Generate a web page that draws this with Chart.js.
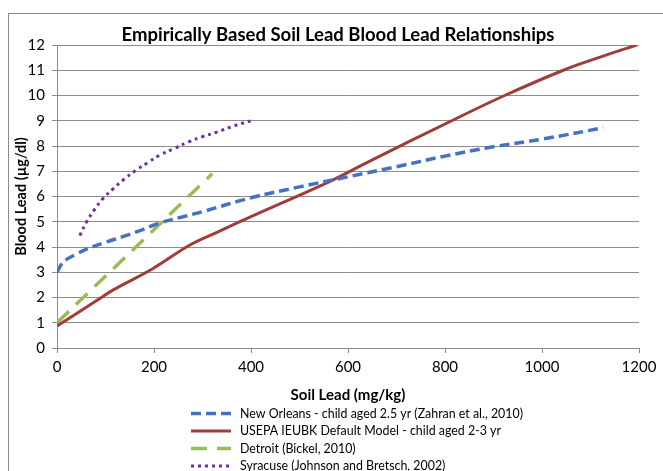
<!DOCTYPE html>
<html lang="en">
<head>
    <meta charset="UTF-8">
    <title>Empirically Based Soil Lead Blood Lead Relationships</title>
    <script src="https://cdn.jsdelivr.net/npm/chart.js"></script>
    <style>
        body { margin: 0; padding: 0; background: #ffffff; overflow: hidden; }
        canvas { display: block; }
    </style>
</head>
<body>
    <canvas id="leadChart" width="663" height="471"></canvas>
    <script>
        // values
        const chartTitle = 'Empirically Based Soil Lead Blood Lead Relationships';
        const seriesNames = [
            'New Orleans - child aged 2.5 yr (Zahran et al., 2010)',
            'USEPA IEUBK Default Model - child aged 2-3 yr',
            'Detroit (Bickel, 2010)',
            'Syracuse (Johnson and Bretsch, 2002)'
        ];
        const newOrleansSoil = [0, 13, 40, 72, 102, 137, 171, 212, 260, 300, 400, 500, 600, 700, 800, 900, 1000, 1126];
        const newOrleansBlood = [3.0, 3.4, 3.72, 4.0, 4.2, 4.42, 4.65, 4.95, 5.2, 5.4, 5.95, 6.38, 6.78, 7.18, 7.6, 7.97, 8.27, 8.72];
        const usepaSoil = [0, 89, 116, 199, 274, 332, 400, 563, 645, 817, 923, 1044, 1120, 1195];
        const usepaBlood = [0.87, 1.97, 2.3, 3.16, 4.08, 4.6, 5.2, 6.6, 7.4, 9.03, 10.0, 11.0, 11.52, 12.0];
        const detroitSoil = [0, 320];
        const detroitBlood = [1.0, 6.9];
        const syracuseSoil = [47, 61, 78, 94, 116, 138, 163, 188, 212, 243, 271, 300, 328, 365, 400];
        const syracuseBlood = [4.45, 5.0, 5.5, 5.9, 6.31, 6.68, 7.04, 7.35, 7.64, 7.91, 8.16, 8.37, 8.54, 8.8, 9.0];
        const xTicks = [0, 200, 400, 600, 800, 1000, 1200];
        const yTicks = [0, 1, 2, 3, 4, 5, 6, 7, 8, 9, 10, 11, 12];

        function toPoints(xs, ys) {
            return xs.map((x, i) => ({ x: x, y: ys[i] }));
        }

        const fontFamily = 'Lato, "Open Sans", sans-serif';

        // outer frame + title (title sits a bit right of the canvas centre, like the original)
        const framePlugin = {
            id: 'frame',
            beforeDraw(chart) {
                const c = chart.ctx;
                c.save();
                c.strokeStyle = '#8c8c8c';
                c.lineWidth = 1;
                c.strokeRect(8.5, 13.5, 700, 500);
                c.fillStyle = '#000';
                c.font = 'bold 18.5px ' + fontFamily;
                c.textAlign = 'center';
                c.textBaseline = 'middle';
                c.fillText(chartTitle, 338, 35);
                c.restore();
            }
        };

        // vertical legend under the axis title
        const legendPlugin = {
            id: 'stackLegend',
            afterDraw(chart) {
                const c = chart.ctx;
                c.save();
                c.font = '12.4px ' + fontFamily;
                c.textBaseline = 'middle';
                c.fillStyle = '#000';
                chart.data.datasets.forEach((ds, i) => {
                    const y = 413.5 + i * 17.5;
                    c.beginPath();
                    c.strokeStyle = ds.borderColor;
                    c.lineWidth = ds.borderWidth;
                    c.setLineDash(ds.borderDash || []);
                    c.lineCap = 'butt';
                    c.moveTo(191, y);
                    c.lineTo(231, y);
                    c.stroke();
                    c.setLineDash([]);
                    c.fillText(ds.label, 240, y);
                });
                c.restore();
            }
        };

        const ctx = document.getElementById('leadChart').getContext('2d');
        new Chart(ctx, {
            type: 'scatter',
            data: {
                datasets: [
                    { label: seriesNames[0], data: toPoints(newOrleansSoil, newOrleansBlood), borderColor: '#4671C0', borderWidth: 3.5, borderDash: [10, 5] },
                    { label: seriesNames[1], data: toPoints(usepaSoil, usepaBlood), borderColor: '#A03D3A', borderWidth: 3 },
                    { label: seriesNames[2], data: toPoints(detroitSoil, detroitBlood), borderColor: '#9BBB59', borderWidth: 3.5, borderDash: [16, 10] },
                    { label: seriesNames[3], data: toPoints(syracuseSoil, syracuseBlood), borderColor: '#7030A0', borderWidth: 3, borderDash: [3, 4] }
                ].map(ds => Object.assign(ds, { showLine: true, pointRadius: 0, fill: false, tension: 0.4 }))
            },
            options: {
                responsive: false,
                animation: false,
                devicePixelRatio: 1,
                layout: { padding: { left: 8, right: 24, top: 45, bottom: 0 } },
                plugins: {
                    legend: { display: false },
                    tooltip: { enabled: false },
                    title: { display: false }
                },
                scales: {
                    x: {
                        type: 'linear',
                        min: 0,
                        max: 1200,
                        afterBuildTicks: axis => { axis.ticks = xTicks.map(v => ({ value: v })); },
                        afterFit: axis => { axis.height = 123; },
                        ticks: { color: '#000', padding: 5, maxRotation: 0, font: { family: fontFamily, size: 15 }, callback: v => String(v) },
                        grid: { drawOnChartArea: false, tickLength: 5, color: '#8c8c8c' },
                        border: { color: '#8c8c8c', width: 1 },
                        title: {
                            display: true,
                            text: 'Soil Lead (mg/kg)',
                            color: '#000',
                            font: { family: fontFamily, size: 15, weight: 'bold' },
                            padding: { top: 0, bottom: 67 }
                        }
                    },
                    y: {
                        min: 0,
                        max: 12,
                        afterBuildTicks: axis => { axis.ticks = yTicks.map(v => ({ value: v })); },
                        afterFit: axis => { axis.width = 49; },
                        ticks: { color: '#000', padding: 7, font: { family: fontFamily, size: 15 }, callback: v => String(v) },
                        grid: { tickLength: 5, color: '#8c8c8c', lineWidth: 1 },
                        border: { color: '#8c8c8c', width: 1 },
                        title: {
                            display: true,
                            text: 'Blood Lead (µg/dl)',
                            color: '#000',
                            font: { family: fontFamily, size: 14.5, weight: 'bold' },
                            padding: { top: 5, bottom: 0 }
                        }
                    }
                }
            },
            plugins: [framePlugin, legendPlugin]
        });
    </script>
</body>
</html>
